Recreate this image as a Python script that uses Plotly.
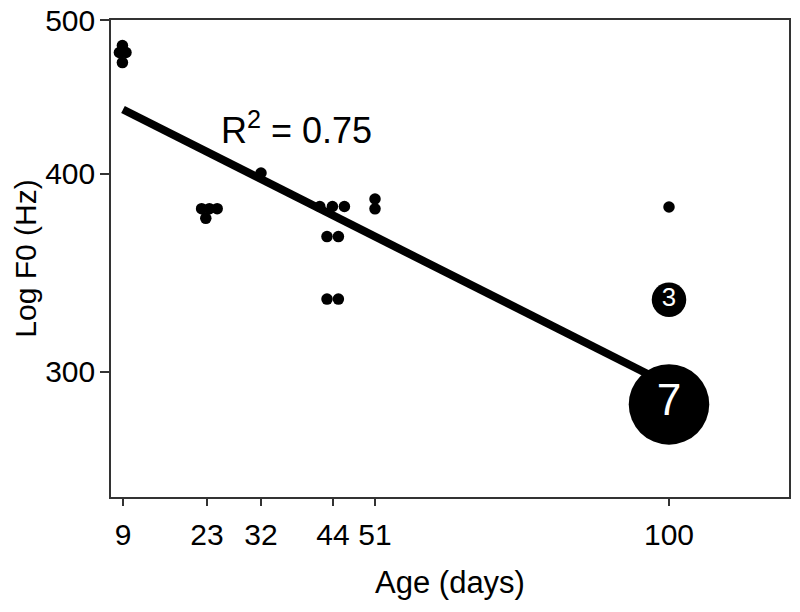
import numpy as np
import plotly.graph_objects as go

# Data (age in days, F0 in Hz, number of overlapping samples)
age = [8.9, 8.4, 9.5, 8.9,
       22.1, 23.4, 24.7, 22.8,
       32,
       41.8, 43.9, 45.9, 43.0, 44.9, 43.0, 44.9,
       51, 51,
       100, 100, 100]
f0 = [481.8, 476.9, 476.9, 470.0,
      380.1, 380.1, 380.1, 374.8,
      400.3,
      381.3, 381.3, 381.3, 365.0, 365.0, 333.3, 333.3,
      385.5, 380.0,
      381.0, 333.0, 286.0]
counts = [1] * 18 + [1, 3, 7]

# Regression line (log F0 vs age) endpoints
fit_age = [9, 100]
fit_f0 = [439, 294.3]

x_ticks = [9, 23, 32, 44, 51, 100]
y_ticks = [300, 400, 500]

sizes = [11.5 * c for c in counts]

# Only grouped points (count > 1) carry a number label
grp_age = [a for a, c in zip(age, counts) if c > 1]
grp_f0 = [f for f, c in zip(f0, counts) if c > 1]
grp_lab = [str(c) for c in counts if c > 1]
grp_size = [12 + 4.6 * c for c in counts if c > 1]

FONT = "Liberation Sans, Arial, sans-serif"

fig = go.Figure()
fig.add_trace(go.Scatter(
    x=fit_age, y=fit_f0, mode="lines",
    line=dict(color="black", width=8), hoverinfo="skip", showlegend=False))
fig.add_trace(go.Scatter(
    x=age, y=f0, mode="markers",
    marker=dict(color="black", size=sizes, line=dict(width=0), opacity=1),
    showlegend=False))
fig.add_trace(go.Scatter(
    x=grp_age, y=grp_f0, mode="text",
    text=grp_lab, textposition="middle center",
    textfont=dict(color="white", size=grp_size, family=FONT),
    hoverinfo="skip", showlegend=False))

fig.add_annotation(
    text="R<sup>2</sup> = 0.75", xref="paper", yref="paper",
    x=0.273, y=0.774, xanchor="center", yanchor="middle", showarrow=False,
    font=dict(size=36, color="black", family=FONT))

axis_common = dict(
    showline=True, linecolor="#333333", linewidth=1.5, mirror=True,
    showgrid=False, zeroline=False, ticks="outside", tickcolor="#333333",
    tickwidth=1.5, tickfont=dict(size=30, color="black", family=FONT),
    automargin=False, ticklabeloverflow="allow",
)

fig.update_xaxes(
    range=[7, 120], tickvals=x_ticks, ticktext=[str(v) for v in x_ticks],
    ticklen=7, ticklabelstandoff=3,
    title=dict(text="Age (days)", font=dict(size=31, color="black", family=FONT), standoff=22),
    **axis_common)
fig.update_yaxes(
    type="log", range=[np.log10(250), np.log10(500)], tickvals=y_ticks,
    ticktext=[str(v) for v in y_ticks], ticklen=9, ticklabelstandoff=-1,
    title=dict(text="Log F0 (Hz)", font=dict(size=30, color="black", family=FONT), standoff=0),
    **axis_common)

fig.update_layout(
    width=800, height=612,
    margin=dict(l=111, r=11, t=20, b=115),
    plot_bgcolor="white", paper_bgcolor="white",
    font=dict(family=FONT, color="black"),
)

# Remove the default page margin so the 800x612 figure fills the window exactly
fig.write_html("out.html", config={"displayModeBar": False},
               post_script="document.body.style.margin='0';")
